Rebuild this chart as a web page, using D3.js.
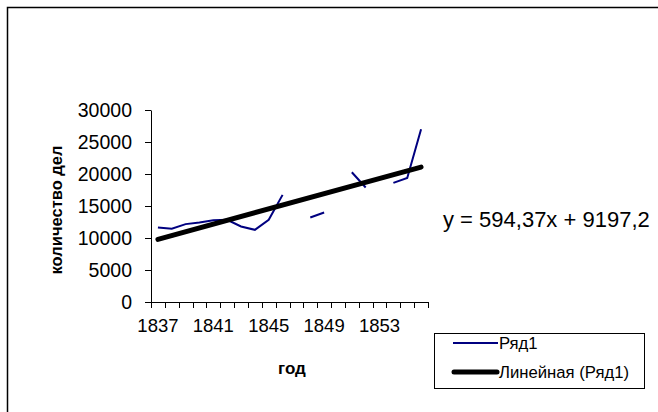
<!DOCTYPE html>
<html><head><meta charset="utf-8">
<script src="https://cdn.jsdelivr.net/npm/d3@7/dist/d3.min.js"></script>
<style>
html,body{margin:0;padding:0;background:#fff;}
svg{display:block;font-family:"Liberation Sans",Arial,sans-serif;}
</style></head>
<body>
<svg id="c" width="658" height="412"></svg>
<script>
const years = [1837,1838,1839,1840,1841,1842,1843,1844,1845,1846,1847,1848,1849,1850,1851,1852,1853,1854,1855,1856];
const series1 = [11650,11440,12170,12430,12790,12840,11800,11280,12840,16740,null,13210,13990,null,20280,17890,null,18610,19390,26980];
const yTicks = [0,5000,10000,15000,20000,25000,30000];
const xTickLabels = [1837,1841,1845,1849,1853];
const trendSlope = 594.37;
const trendIntercept = 9197.2;
const equationText = "y = 594,37x + 9197,2";
const seriesName = "Ряд1";
const trendName = "Линейная (Ряд1)";
const yTitle = "количество дел";
const xTitle = "год";

const svg = d3.select("#c");
const L = 151, R = 428, T = 110, B = 302;

// outer border
svg.append("rect").attr("x",7.5).attr("y",7.5).attr("width",700).attr("height",500)
  .attr("fill","none").attr("stroke","#000").attr("stroke-width",1.5);

const x = d3.scaleBand().domain(years).range([L,R]).padding(0);
const y = d3.scaleLinear().domain([0,30000]).range([B,T]);

// Y axis
const yAx = svg.append("g").attr("transform",`translate(${L},0)`)
  .call(d3.axisLeft(y).tickValues(yTicks).tickSize(6).tickSizeOuter(0).tickPadding(13).tickFormat(d3.format("d")));
yAx.selectAll("text").attr("font-size",19.5).attr("fill","#000").attr("font-family","Liberation Sans, Arial, sans-serif");
yAx.selectAll("line,path").attr("stroke","#000");

// X axis line + boundary ticks
const xg = svg.append("g");
xg.append("line").attr("x1",L).attr("x2",R).attr("y1",B+0.5).attr("y2",B+0.5).attr("stroke","#000");
const bounds = years.map(d=>x(d)).concat([x(years[years.length-1])+x.bandwidth()]);
xg.selectAll("line.t").data(bounds).enter().append("line")
  .attr("x1",d=>Math.round(d)+0.5).attr("x2",d=>Math.round(d)+0.5).attr("y1",B).attr("y2",B+6).attr("stroke","#000");
xg.selectAll("text.xl").data(xTickLabels).enter().append("text")
  .attr("x",d=>x(d)+x.bandwidth()/2).attr("y",332).attr("text-anchor","middle")
  .attr("font-size",18.5).text(d=>d);

// series line
const line = d3.line().defined(d=>d.v!=null)
  .x(d=>x(d.year)+x.bandwidth()/2).y(d=>y(d.v));
const pts = years.map((yr,i)=>({year:yr,v:series1[i]}));
svg.append("path").datum(pts).attr("d",line).attr("fill","none")
  .attr("stroke","#000080").attr("stroke-width",2);

// trendline
const tr = [years[0], years[years.length-1]].map(yr=>{
  const idx = years.indexOf(yr)+1;
  return {year:yr, v: trendSlope*idx + trendIntercept};
});
svg.append("path").datum(tr).attr("d",line).attr("fill","none")
  .attr("stroke","#000").attr("stroke-width",5).attr("stroke-linecap","round");

// equation
svg.append("text").attr("x",443).attr("y",227).attr("font-size",22).text(equationText);

// axis titles
svg.append("text").attr("transform","translate(62,210) rotate(-90)").attr("text-anchor","middle")
  .attr("font-size",16.5).attr("font-weight","bold").text(yTitle);
svg.append("text").attr("x",292).attr("y",374).attr("text-anchor","middle")
  .attr("font-size",17).attr("font-weight","bold").text(xTitle);

// legend
const lg = svg.append("g");
lg.append("rect").attr("x",434.5).attr("y",333.5).attr("width",210).attr("height",55)
  .attr("fill","#fff").attr("stroke","#000").attr("stroke-width",1);
lg.append("line").attr("x1",453).attr("x2",498).attr("y1",343).attr("y2",343).attr("stroke","#000080").attr("stroke-width",2);
lg.append("line").attr("x1",454).attr("x2",497).attr("y1",372).attr("y2",372).attr("stroke","#000").attr("stroke-width",5).attr("stroke-linecap","round");
lg.append("text").attr("x",499).attr("y",349).attr("font-size",16.7).text(seriesName);
lg.append("text").attr("x",499).attr("y",378).attr("font-size",16.7).text(trendName);
</script>
</body></html>
